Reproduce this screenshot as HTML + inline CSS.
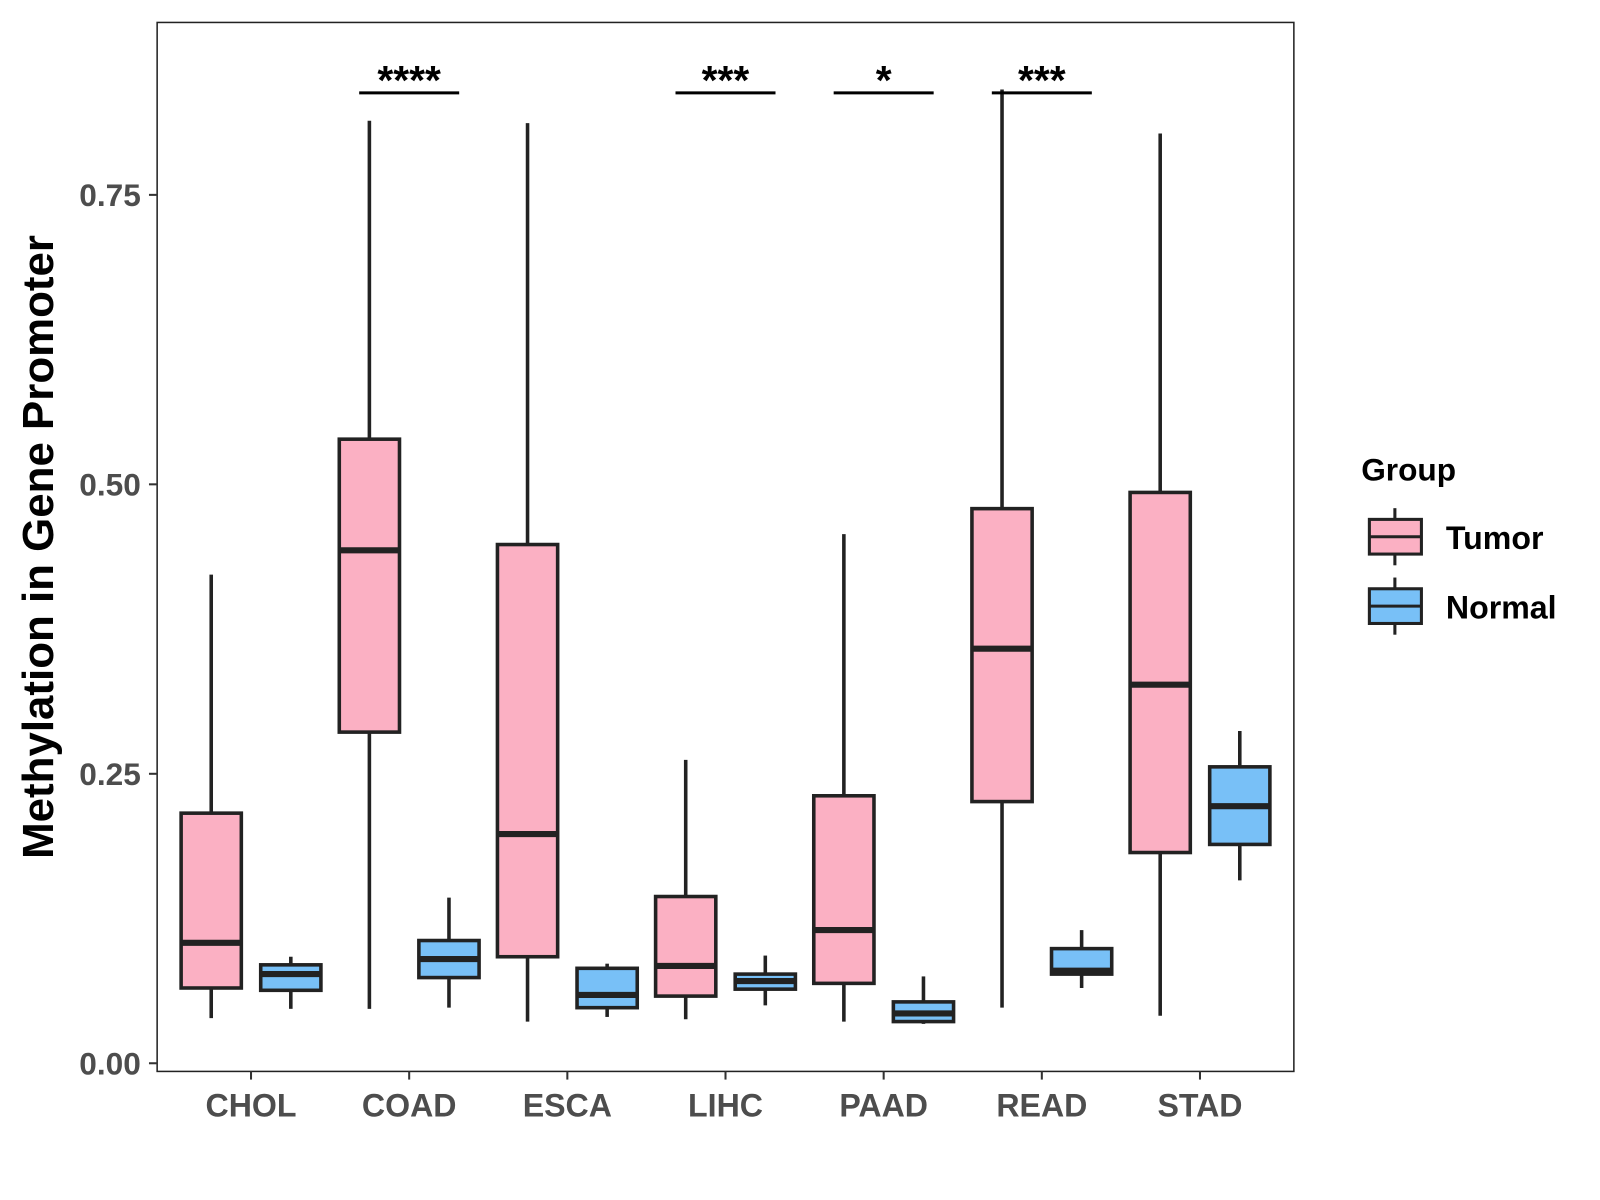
<!DOCTYPE html>
<html><head><meta charset="utf-8"><style>
body{margin:0;background:#fff}
svg{display:block;font-family:"Liberation Sans",Arial,sans-serif}
</style></head><body>
<svg id="chart" width="1600" height="1200" viewBox="0 0 1600 1200">
<rect x="0" y="0" width="1600" height="1200" fill="#fff"/>
<g transform="scale(1.0204)">
<rect x="154" y="22" width="1114" height="1028" fill="none" stroke="#222" stroke-width="1.5"/>
<g id="marks"></g>
<text x="52" y="536" transform="rotate(-90 52 536)" text-anchor="middle" font-size="43" font-weight="bold" fill="#000">Methylation in Gene Promoter</text>
<g>
<text x="1334" y="471" font-size="31" font-weight="bold" fill="#000">Group</text>
<g>
<line x1="1367" y1="498" x2="1367" y2="554" stroke="#222" stroke-width="3"/>
<rect x="1342" y="509" width="51" height="34" fill="#FBB0C3" stroke="#222" stroke-width="3"/>
<line x1="1342" y1="526" x2="1393" y2="526" stroke="#222" stroke-width="3"/>
<text x="1417" y="538" font-size="31.5" font-weight="bold" fill="#000">Tumor</text></g>
<g>
<line x1="1367" y1="566" x2="1367" y2="622" stroke="#222" stroke-width="3"/>
<rect x="1342" y="577" width="51" height="34" fill="#78C0F7" stroke="#222" stroke-width="3"/>
<line x1="1342" y1="594" x2="1393" y2="594" stroke="#222" stroke-width="3"/>
<text x="1417" y="606" font-size="31.5" font-weight="bold" fill="#000">Normal</text></g>
</g>
</g>
</svg>
<script>
const categories=["CHOL","COAD","ESCA","LIHC","PAAD","READ","STAD"];
const tumorLow=[0.039,0.047,0.036,0.038,0.036,0.048,0.041];
const tumorQ1=[0.065,0.286,0.092,0.058,0.069,0.226,0.182];
const tumorMed=[0.104,0.443,0.198,0.084,0.115,0.358,0.327];
const tumorQ3=[0.216,0.539,0.448,0.144,0.231,0.479,0.493];
const tumorHigh=[0.422,0.814,0.812,0.262,0.457,0.841,0.803];
const normalLow=[0.047,0.048,0.040,0.050,0.034,0.065,0.158];
const normalQ1=[0.063,0.074,0.048,0.064,0.036,0.077,0.189];
const normalMed=[0.077,0.090,0.059,0.071,0.043,0.080,0.222];
const normalQ3=[0.085,0.106,0.082,0.077,0.053,0.099,0.256];
const normalHigh=[0.092,0.143,0.086,0.093,0.075,0.115,0.287];
const significance=["","****","","***","*","***",""];
const yTicks=[0,0.25,0.5,0.75];
const yTickLabels=["0.00","0.25","0.50","0.75"];

const NS="http://www.w3.org/2000/svg";
const g=document.getElementById("marks");
function y(v){return 1042-v*1134.7;}
function x(i){return 246+i*155;}
function mk(tag,attrs,parent){const e=document.createElementNS(NS,tag);for(const k in attrs)e.setAttribute(k,attrs[k]);(parent||g).appendChild(e);return e;}

yTicks.forEach((t,i)=>{
  const tk=mk("line",{x1:146,x2:154,y1:y(t),y2:y(t),stroke:"#333","stroke-width":2});
  
  
  const lb=mk("text",{x:138,y:y(t)+11,"text-anchor":"end","font-size":31,"font-weight":"bold",fill:"#4d4d4d"});
  lb.textContent=yTickLabels[i];
  
  
});
categories.forEach((c,i)=>{
  const tk=mk("line",{x1:x(i),x2:x(i),y1:1050,y2:1058,stroke:"#333","stroke-width":2});
  
  
  const lb=mk("text",{x:x(i),y:1094,"text-anchor":"middle","font-size":31.5,"font-weight":"bold",fill:"#4d4d4d"});
  lb.textContent=c;
  
  
});
function box(cx,lo,q1,md,q3,hi,fill,name){
  const gr=mk("g",{});
  
  
  mk("line",{x1:cx,x2:cx,y1:y(hi),y2:y(lo),stroke:"#222","stroke-width":3.5},gr);
  mk("rect",{x:cx-29.5,y:y(q3),width:59,height:y(q1)-y(q3),fill:fill,stroke:"#222","stroke-width":3.5},gr);
  mk("line",{x1:cx-29.5,x2:cx+29.5,y1:y(md),y2:y(md),stroke:"#222","stroke-width":6},gr);
}
categories.forEach((c,i)=>{
  box(x(i)-39,tumorLow[i],tumorQ1[i],tumorMed[i],tumorQ3[i],tumorHigh[i],"#FBB0C3","box-tumor-"+c.toLowerCase());
  box(x(i)+39,normalLow[i],normalQ1[i],normalMed[i],normalQ3[i],normalHigh[i],"#78C0F7","box-normal-"+c.toLowerCase());
  if(significance[i]){
    const l=mk("line",{x1:x(i)-49,x2:x(i)+49,y1:91,y2:91,stroke:"#000","stroke-width":3});
    
    
    const s=mk("text",{x:x(i),y:92,"text-anchor":"middle","font-size":40,"font-weight":"bold",fill:"#000"});
    s.textContent=significance[i];
    
    
  }
});
</script>
</body></html>
